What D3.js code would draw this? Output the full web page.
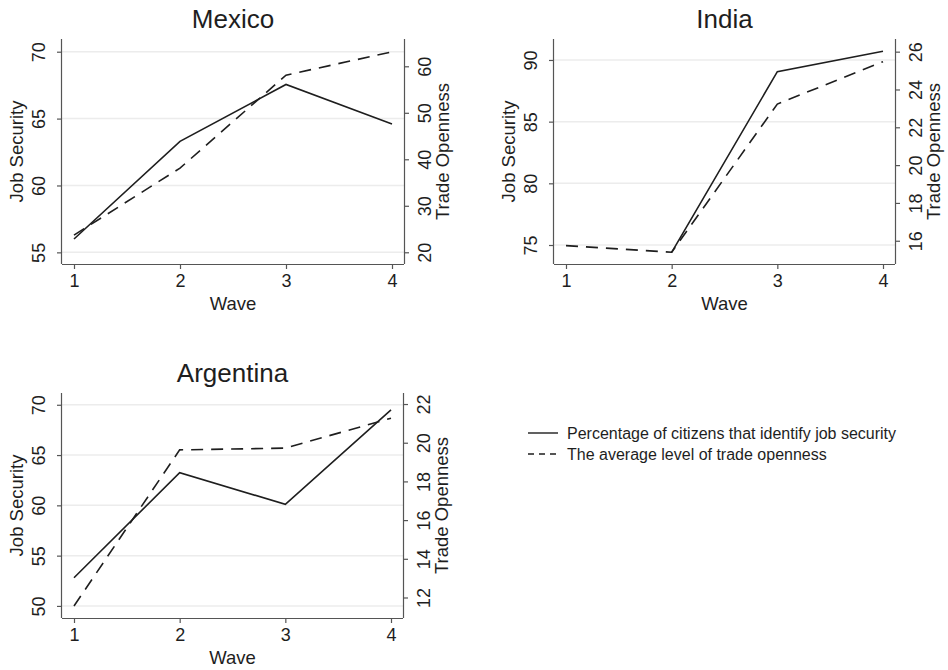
<!DOCTYPE html>
<html>
<head>
<meta charset="utf-8">
<script src="https://cdn.jsdelivr.net/npm/d3@7"></script>
<style>
  body { margin: 0; background: #fff; }
  svg { display: block; font-family: "Liberation Sans", Arial, Helvetica, sans-serif; }
</style>
</head>
<body>
<svg width="948" height="670"></svg>
<script>
const waves = [1, 2, 3, 4]

const mexicoJob = [56.0, 63.3, 67.55, 64.6]
const mexicoTrade = [23.7, 38.1, 58.1, 63.1]
const mexicoJobTicks = [55, 60, 65, 70]
const mexicoTradeTicks = [20, 30, 40, 50, 60]

const indiaJob = [null, 74.4, 89.05, 90.7]
const indiaTrade = [15.74, 15.39, 23.23, 25.47]
const indiaJobTicks = [75, 80, 85, 90]
const indiaTradeTicks = [16, 18, 20, 22, 24, 26]

const argentinaJob = [52.8, 63.25, 60.1, 69.5]
const argentinaTrade = [11.56, 19.63, 19.72, 21.27]
const argentinaJobTicks = [50, 55, 60, 65, 70]
const argentinaTradeTicks = [12, 14, 16, 18, 20, 22]

const legendLabels = [
  'Percentage of citizens that identify job security',
  'The average level of trade openness'
]

const ink = '#1e1e1e'
const axisColor = '#555555'
const gridColor = '#ececec'
const dashPattern = '12,8'

const svg = d3.select('svg')

const drawPanel = (p) => {
  const g = svg.append('g')
  const x = d3.scaleLinear().domain([1, 4]).range([p.left + 12, p.right - 12])
  const yL = d3.scaleLinear().domain(p.jobDomain).range([p.bottom, p.top])
  const yR = d3.scaleLinear().domain(p.tradeDomain).range([p.bottom, p.top])

  // grid
  g.append('g')
   .selectAll('line')
   .data(p.jobTicks)
   .join('line')
   .attr('x1', p.left)
   .attr('x2', p.right)
   .attr('y1', d => yL(d))
   .attr('y2', d => yL(d))
   .attr('stroke', gridColor)
   .attr('stroke-width', 1.5)

  // axes
  const xAxis = g.append('g')
                 .attr('transform', `translate(0, ${p.bottom})`)
                 .call(d3.axisBottom(x).tickValues(waves).tickSize(5).tickSizeOuter(0).tickFormat(d3.format('d')))
  xAxis.select('.domain').attr('d', `M${p.left},0.5H${p.right}`)

  const leftAxis = g.append('g')
                    .attr('transform', `translate(${p.left}, 0)`)
                    .call(d3.axisLeft(yL).tickValues(p.jobTicks).tickSize(5).tickSizeOuter(0))
  leftAxis.select('.domain').attr('d', `M-0.5,${p.top}V${p.bottom}`)

  const rightAxis = g.append('g')
                     .attr('transform', `translate(${p.right}, 0)`)
                     .call(d3.axisRight(yR).tickValues(p.tradeTicks).tickSize(5).tickSizeOuter(0))
  rightAxis.select('.domain').attr('d', `M0.5,${p.top}V${p.bottom}`)

  g.selectAll('.domain, .tick line').attr('stroke', axisColor).attr('stroke-width', 1.2)
  g.selectAll('.tick text').attr('fill', ink).style('font-size', '18px')

  xAxis.selectAll('.tick text').attr('y', 10).attr('dy', '0.71em')
  leftAxis.selectAll('.tick text')
          .attr('x', null).attr('dy', null)
          .attr('text-anchor', 'middle')
          .attr('transform', 'translate(-23, 0) rotate(-90)')
          .attr('dy', '0.35em')
  rightAxis.selectAll('.tick text')
           .attr('x', null).attr('dy', null)
           .attr('text-anchor', 'middle')
           .attr('transform', 'translate(21, 0) rotate(-90)')
           .attr('dy', '0.35em')

  const midX = (p.left + p.right) / 2
  const midY = (p.top + p.bottom) / 2

  g.append('text')
   .text(p.name)
   .attr('x', midX)
   .attr('y', p.top - 11)
   .attr('text-anchor', 'middle')
   .attr('fill', ink)
   .style('font-size', '26px')

  g.append('text')
   .text('Wave')
   .attr('x', midX)
   .attr('y', p.bottom + 46)
   .attr('text-anchor', 'middle')
   .attr('fill', ink)
   .style('font-size', '18.5px')

  g.append('text')
   .text('Job Security')
   .attr('transform', `translate(${p.left - 45}, ${midY}) rotate(-90)`)
   .attr('dy', '0.35em')
   .attr('text-anchor', 'middle')
   .attr('fill', ink)
   .style('font-size', '18.5px')

  g.append('text')
   .text('Trade Openness')
   .attr('transform', `translate(${p.right + 39}, ${midY}) rotate(-90)`)
   .attr('dy', '0.35em')
   .attr('text-anchor', 'middle')
   .attr('fill', ink)
   .style('font-size', '18.5px')

  const jobLine = d3.line()
                    .defined(d => d[1] !== null)
                    .x(d => x(d[0]))
                    .y(d => yL(d[1]))
  const tradeLine = d3.line()
                      .x(d => x(d[0]))
                      .y(d => yR(d[1]))

  g.append('path')
   .datum(d3.zip(waves, p.trade))
   .attr('d', tradeLine)
   .attr('fill', 'none')
   .attr('stroke', ink)
   .attr('stroke-width', 1.6)
   .attr('stroke-dasharray', dashPattern)

  g.append('path')
   .datum(d3.zip(waves, p.job))
   .attr('d', jobLine)
   .attr('fill', 'none')
   .attr('stroke', ink)
   .attr('stroke-width', 1.6)
}

drawPanel({
  name: 'Mexico', left: 62, right: 404, top: 39, bottom: 264,
  jobDomain: [54.13, 70.95], tradeDomain: [17.48, 65.87],
  jobTicks: mexicoJobTicks, tradeTicks: mexicoTradeTicks,
  job: mexicoJob, trade: mexicoTrade
})

drawPanel({
  name: 'India', left: 554, right: 895, top: 39, bottom: 264,
  jobDomain: [73.46, 91.7], tradeDomain: [14.77, 26.67],
  jobTicks: indiaJobTicks, tradeTicks: indiaTradeTicks,
  job: indiaJob, trade: indiaTrade
})

drawPanel({
  name: 'Argentina', left: 62, right: 403, top: 393, bottom: 618,
  jobDomain: [48.8, 71.17], tradeDomain: [10.94, 22.57],
  jobTicks: argentinaJobTicks, tradeTicks: argentinaTradeTicks,
  job: argentinaJob, trade: argentinaTrade
})

// legend
const legend = svg.append('g').attr('transform', 'translate(528, 433)')
const legendItems = legend.selectAll('g')
                          .data(legendLabels)
                          .join('g')
                          .attr('transform', (d, i) => `translate(0, ${i * 21})`)
legendItems.append('line')
           .attr('x1', 0)
           .attr('x2', 30)
           .attr('stroke', ink)
           .attr('stroke-width', 1.4)
           .attr('stroke-dasharray', (d, i) => i === 1 ? '6,5' : null)
legendItems.append('text')
           .text(d => d)
           .attr('x', 39)
           .attr('dy', '0.35em')
           .attr('fill', ink)
           .style('font-size', '16px')
</script>
</body>
</html>
